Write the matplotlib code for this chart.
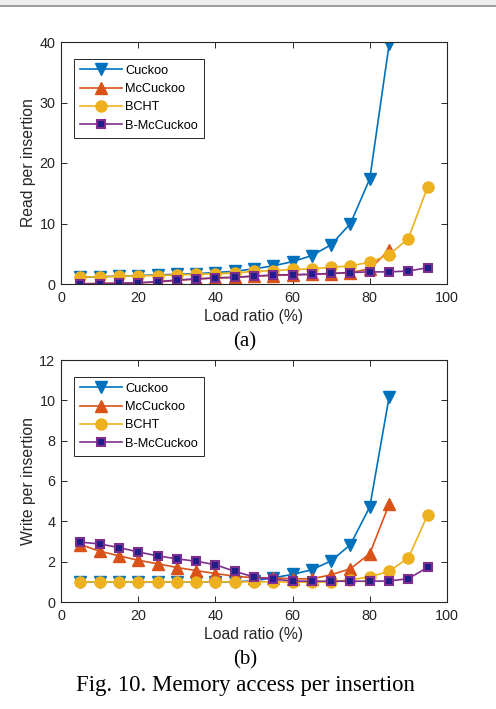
import matplotlib
matplotlib.use('Agg')
import matplotlib.pyplot as plt
from matplotlib.patches import Rectangle
from matplotlib.lines import Line2D

load = [5, 10, 15, 20, 25, 30, 35, 40, 45, 50, 55, 60, 65, 70, 75, 80, 85, 90, 95]

# read per insertion
read_cuckoo = [1.1, 1.2, 1.3, 1.4, 1.5, 1.6, 1.7, 1.9, 2.1, 2.5, 3.0, 3.7, 4.7, 6.5, 10.0, 17.4, 39.6]
read_mccuckoo = [0.05, 0.1, 0.15, 0.2, 0.3, 0.6, 0.8, 1.0, 1.1, 1.3, 1.4, 1.5, 1.6, 1.7, 1.9, 2.5, 5.6]
read_bcht = [1.15, 1.2, 1.3, 1.35, 1.4, 1.5, 1.6, 1.7, 1.8, 2.1, 2.2, 2.4, 2.5, 2.75, 3.0, 3.6, 4.85, 7.5, 16.1]
read_bmccuckoo = [0.0, 0.05, 0.1, 0.2, 0.4, 0.65, 0.85, 1.0, 1.1, 1.3, 1.5, 1.55, 1.6, 1.75, 1.9, 2.0, 2.0, 2.15, 2.7]

# write per insertion
write_cuckoo = [1.0, 1.0, 1.0, 1.0, 1.0, 1.0, 1.0, 1.0, 1.0, 1.05, 1.2, 1.37, 1.6, 2.04, 2.85, 4.72, 10.16]
write_mccuckoo = [2.85, 2.52, 2.29, 2.07, 1.9, 1.71, 1.56, 1.41, 1.28, 1.2, 1.2, 1.15, 1.15, 1.35, 1.65, 2.4, 4.84]
write_bcht = [1.0, 1.0, 1.0, 1.0, 1.0, 1.0, 1.0, 1.0, 1.0, 1.0, 1.0, 0.98, 0.98, 1.0, 1.1, 1.25, 1.52, 2.19, 4.33]
write_bmccuckoo = [2.97, 2.88, 2.7, 2.48, 2.29, 2.14, 2.02, 1.85, 1.52, 1.24, 1.13, 1.04, 1.03, 1.03, 1.03, 1.03, 1.04, 1.16, 1.72]

names = ['Cuckoo', 'McCuckoo', 'BCHT', 'B-McCuckoo']
colors = ['#0072BD', '#D95319', '#EDB120', '#7E2F8E']

sans = 'Liberation Sans'
serif = 'Liberation Serif'
ink = '#262626'

W, H = 496, 709
fig = plt.figure(figsize=(W / 100, H / 100), dpi=100)

# screenshot frame strip at top
fig.patches.append(Rectangle((0, 1 - 6 / H), 1, 6 / H, transform=fig.transFigure,
                             facecolor='#efefef', edgecolor='none'))
fig.add_artist(Line2D([0, 1], [1 - 6 / H, 1 - 6 / H], transform=fig.transFigure,
                      color='#8a8f94', linewidth=1.2))


def make_axes(top, bottom):
    left, right = 61, 447
    return fig.add_axes([left / W, 1 - bottom / H, (right - left) / W, (bottom - top) / H])


def draw(ax, series, ylim, yticks, ylabel):
    styles = [dict(marker='v', ms=9), dict(marker='^', ms=9),
              dict(marker='o', ms=8), dict(marker='s', ms=5.5)]
    for name, vals, c, st in zip(names, series, colors, styles):
        if name == 'B-McCuckoo':
            ax.plot(load[:len(vals)], vals, color=c, lw=1.2, marker=st['marker'], ms=st['ms'],
                    mfc='#1f1f8a', mec=c, mew=1.5, label=name)
        else:
            ax.plot(load[:len(vals)], vals, color=c, lw=1.2, marker=st['marker'], ms=st['ms'],
                    mfc=c, mec=c, label=name)
    ax.set_xlim(0, 100)
    ax.set_ylim(*ylim)
    ax.set_xticks([0, 20, 40, 60, 80, 100])
    ax.set_yticks(yticks)
    ax.tick_params(direction='in', top=True, right=True, labelsize=10.4,
                   colors=ink, length=4, width=0.7)
    ax.tick_params(axis='x', pad=5)
    ax.tick_params(axis='y', pad=4)
    for lab in ax.get_xticklabels() + ax.get_yticklabels():
        lab.set_family(sans)
    for s in ax.spines.values():
        s.set_color(ink)
        s.set_linewidth(0.8)
    ax.set_xlabel('Load ratio (%)', fontsize=11.3, family=sans, color=ink, labelpad=3)
    ax.set_ylabel(ylabel, fontsize=11.3, family=sans, color=ink, labelpad=2.5)
    leg = ax.legend(loc='upper left', bbox_to_anchor=(0.034, 0.93), borderaxespad=0,
                    prop={'family': sans, 'size': 9.2},
                    fancybox=False, edgecolor=ink, framealpha=1, handlelength=3.3,
                    labelspacing=0.5, borderpad=0.45, handletextpad=0.25)
    leg.get_frame().set_linewidth(0.7)


ax1 = make_axes(42, 284)
draw(ax1, [read_cuckoo, read_mccuckoo, read_bcht, read_bmccuckoo],
     (0, 40), [0, 10, 20, 30, 40], 'Read per insertion')

ax2 = make_axes(360, 602)
draw(ax2, [write_cuckoo, write_mccuckoo, write_bcht, write_bmccuckoo],
     (0, 12), [0, 2, 4, 6, 8, 10, 12], 'Write per insertion')

cx = 245 / W
fig.text(cx, 1 - 342 / H, '(a)', ha='center', va='center', family=serif, fontsize=15)
fig.text(cx, 1 - 660 / H, '(b)', ha='center', va='center', family=serif, fontsize=15)
fig.text(cx, 1 - 686 / H, 'Fig. 10. Memory access per insertion', ha='center', va='center',
         family=serif, fontsize=16.4)

fig.savefig('out.png', dpi=100)
